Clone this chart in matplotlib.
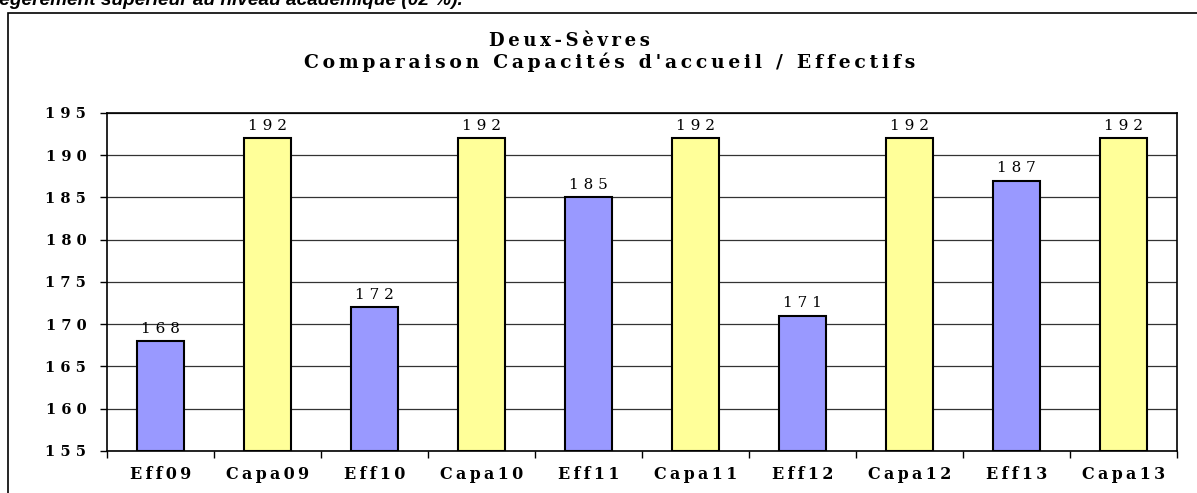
import numpy as np
import matplotlib.pyplot as plt
from matplotlib.patches import Rectangle

# data
categories = ['Eff09', 'Capa09', 'Eff10', 'Capa10', 'Eff11',
              'Capa11', 'Eff12', 'Capa12', 'Eff13', 'Capa13']
values = [168, 192, 172, 192, 185, 192, 171, 192, 187, 192]
yticks = [155, 160, 165, 170, 175, 180, 185, 190, 195]

blue = '#9999FF'
yellow = '#FFFF99'
serif = ['DejaVu Serif']


def spaced(s, sep=' '):
    # Excel stretched the letters, so pad them out
    return sep.join(list(s))


fig = plt.figure(figsize=(11.97, 4.93), dpi=100)

# text cut at the top of the page
fig.text(-6 / 1197, 1 - 5 / 493, 'légèrement supérieur au niveau académique (02 %).',
         fontsize=13.7, fontweight='bold', fontstyle='italic',
         family='Liberation Sans', ha='left', va='baseline')

# frame of the chart object
fig.patches.append(Rectangle((8 / 1197, -0.02), 1.2, 1 - 13 / 493 + 0.02,
                             transform=fig.transFigure, fill=False,
                             edgecolor='black', lw=1.2))

ax = fig.add_axes([107 / 1197, 1 - 451 / 493, (1177 - 107) / 1197, (451 - 113) / 493])

x = np.arange(len(categories))
colors = [blue if c.startswith('Eff') else yellow for c in categories]
bars = ax.bar(x, np.array(values) - 155, bottom=155, width=0.43,
              color=colors, edgecolor='black', lw=1.5, zorder=3)

for xi, v in zip(x, values):
    ax.annotate(spaced(str(v)), (xi, v), xytext=(0, 4), textcoords='offset points',
                ha='center', va='bottom', fontsize=11, family=serif)

ax.set_xlim(-0.5, len(categories) - 0.5)
ax.set_ylim(155, 195)
ax.set_yticks(yticks)
ax.set_yticklabels([spaced(str(t)) for t in yticks], fontsize=10.5,
                   fontweight='bold', family=serif)
ax.set_xticks(x)
ax.set_xticklabels([spaced(c, '\u2009') for c in categories], fontsize=11.5,
                   fontweight='bold', family=serif)
ax.set_xticks(np.arange(len(categories) + 1) - 0.5, minor=True)
ax.tick_params(axis='x', which='major', length=0, pad=11)
ax.tick_params(axis='x', which='minor', length=5, direction='out', width=1)
ax.tick_params(axis='y', length=5, direction='out', width=1, pad=10)
ax.yaxis.grid(True, color='#333333', lw=0.9, zorder=0)
for sp in ax.spines.values():
    sp.set_linewidth(1.2)

fig.text(569 / 1197, 1 - 46 / 493, spaced('Deux-Sèvres', '\u2009'), ha='center', va='baseline',
         fontsize=13, fontweight='bold', family=serif)
fig.text(610 / 1197, 1 - 68 / 493, spaced("Comparaison Capacités d'accueil / Effectifs", '\u2009'),
         ha='center', va='baseline', fontsize=13.5, fontweight='bold', family=serif)

fig.savefig('out.png', dpi=100)
